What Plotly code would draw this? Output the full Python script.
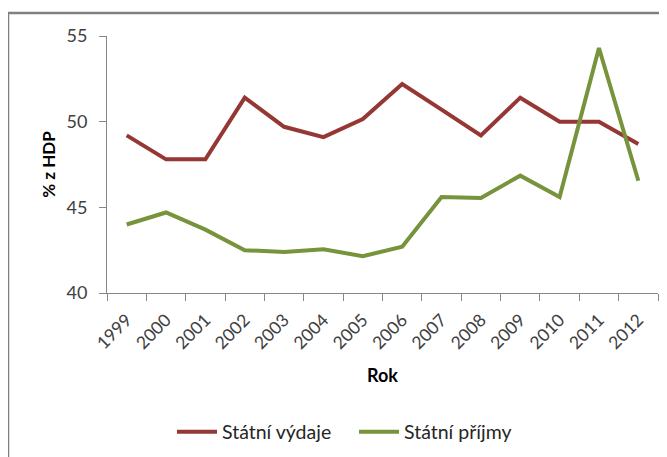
import plotly.graph_objects as go

years = ["1999", "2000", "2001", "2002", "2003", "2004", "2005",
         "2006", "2007", "2008", "2009", "2010", "2011", "2012"]
vydaje = [49.2, 47.8, 47.8, 51.4, 49.7, 49.1, 50.15, 52.2, 50.7, 49.2, 51.4, 50.0, 50.0, 48.7]
prijmy = [44.0, 44.7, 43.7, 42.5, 42.4, 42.55, 42.15, 42.7, 45.6, 45.55, 46.85, 45.6, 54.3, 46.55]

series_names = ["Státní výdaje", "Státní příjmy"]
colors = ["#953735", "#77933C"]

FONT = "Lato, 'Open Sans', sans-serif"
OFF = 8  # page body margin
W, H = 667 - OFF, 457 - OFF
L, R, T = 107 - OFF, 9, 36 - OFF
B = H - (293 - OFF)
pw, ph = W - L - R, H - T - B

def px_x(px):  # page pixel -> paper
    return (px - OFF - L) / pw

def px_y(py):
    return (H - B - (py - OFF)) / ph

fig = go.Figure()
for name, vals, c in zip(series_names, [vydaje, prijmy], colors):
    fig.add_trace(go.Scatter(x=years, y=vals, mode="lines", name=name,
                             line=dict(color=c, width=4)))

fig.update_layout(
    width=W, height=H,
    margin=dict(l=L, r=R, t=T, b=B, autoexpand=False),
    paper_bgcolor="white", plot_bgcolor="white",
    font=dict(family=FONT, color="#262626"),
    showlegend=True,
    legend=dict(orientation="h", x=px_x(172), xanchor="left",
                y=px_y(432), yanchor="middle",
                font=dict(size=19.5, color="#262626"),
                itemwidth=40, tracegroupgap=0, bgcolor="rgba(0,0,0,0)",
                entrywidth=127, entrywidthmode="pixels"),
    xaxis=dict(type="category", range=[-0.5, 13.5], showgrid=False,
               showline=True, linecolor="#868686", linewidth=1,
               ticks="outside", tickson="boundaries", ticklen=7,
               tickcolor="#868686", tickangle=-45,
               tickfont=dict(size=17.5, color="#404040"),
               ticklabelstandoff=9,
               title=dict(text="<b>Rok</b>", font=dict(size=18, color="#000000"),
                          standoff=17),
               zeroline=False),
    yaxis=dict(range=[40, 55], tickvals=[40, 45, 50, 55], showgrid=False,
               showline=True, linecolor="#868686", linewidth=1,
               ticks="outside", ticklen=7, tickcolor="#868686",
               tickfont=dict(size=18, color="#404040"),
               ticklabelstandoff=8,
               title=dict(text="<b>% z HDP</b>", font=dict(size=17, color="#000000"),
                          standoff=6),
               zeroline=False),
    shapes=[dict(type="rect", xref="paper", yref="paper",
                 x0=px_x(8), x1=px_x(720), y0=px_y(520), y1=px_y(13),
                 line=dict(color="#808080", width=2.5), layer="below")],
)

fig.write_html("out.html")
